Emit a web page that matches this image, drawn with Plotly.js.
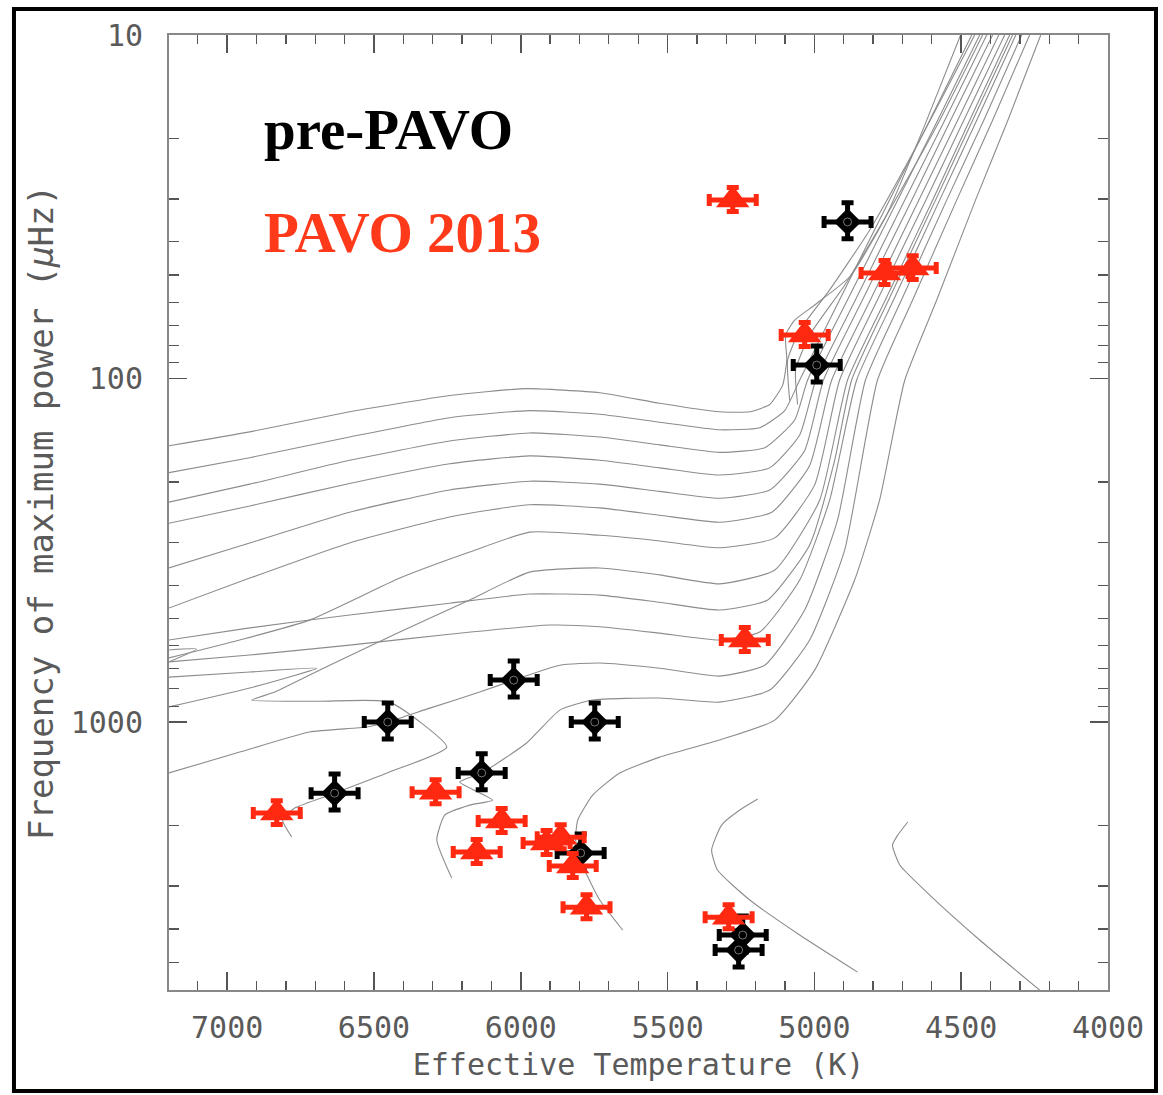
<!DOCTYPE html>
<html>
<head>
<meta charset="utf-8">
<script src="https://cdn.plot.ly/plotly-3.0.1.min.js"></script>
<style>
  html, body { margin: 0; padding: 0; background: #ffffff; }
  #chart { width: 1163px; height: 1095px; }
</style>
</head>
<body>
<div id="chart"></div>
<script>
// ---------- Data ----------
// pre-PAVO stars (black)
const prePavoTeff = [4887, 4992, 6024, 6453, 5748, 6133, 6634, 5796, 5244, 5258];
const prePavoNumax = [35.0, 91.4, 755, 1000, 1000, 1406, 1611, 2406, 4169, 4610];
const prePavoTeffErr = [80, 80, 80, 80, 80, 80, 80, 80, 80, 80];

// PAVO 2013 stars (red)
const pavoTeff = [5278, 4761, 4665, 5033, 5237, 6831, 6290, 6065, 6150, 5864, 5912, 5823, 5776, 5292];
const pavoNumax = [30.2, 49.3, 47.7, 74.7, 577, 1841, 1600, 1941, 2389, 2163, 2250, 2625, 3458, 3698];
const pavoTeffErr = [80, 80, 80, 80, 80, 80, 80, 80, 80, 80, 80, 80, 80, 80];

const numaxErrPct = 12;      // vertical error bars (percent)
const pavoNumaxErrPct = 8;

// Evolutionary tracks (Teff in K, numax in muHz)
const trackTeff = [
  [7199, 6923, 6583, 6242, 5980, 5731, 5527, 5323, 5220, 5152, 5108, 5094, 5098, 5067, 4999, 4877, 4754, 4624, 4502],
  [7199, 6923, 6583, 6242, 5970, 5731, 5527, 5323, 5186, 5101, 5050, 4914, 4744, 4607, 4464],
  [7199, 6923, 6583, 6242, 5970, 5731, 5527, 5323, 5169, 5067, 5023, 4887, 4716, 4580, 4437],
  [7199, 6923, 6583, 6242, 5970, 5731, 5527, 5323, 5152, 5050, 4995, 4860, 4692, 4556, 4413],
  [7199, 6923, 6583, 6242, 5970, 5731, 5527, 5323, 5152, 5033, 4969, 4836, 4668, 4536, 4393],
  [7199, 6923, 6583, 6242, 5970, 5731, 5527, 5323, 5145, 5016, 4941, 4809, 4644, 4512, 4372],
  [7199, 6957, 6719, 6412, 6174, 5970, 5731, 5527, 5323, 5135, 4999, 4914, 4785, 4620, 4491, 4352],
  [7199, 6957, 6719, 6525, 6453, 6310, 6140, 6024, 5867, 5731, 5527, 5323, 5169, 5033, 4921, 4826, 4703, 4549, 4423, 4294],
  [7199, 6923, 6583, 6242, 5902, 5731, 5527, 5323, 5186, 5050, 4948, 4856, 4730, 4573, 4447, 4314],
  [7199, 6923, 6583, 6242, 5970, 5731, 5527, 5323, 5159, 5016, 4931, 4873, 4747, 4587, 4461, 4325],
  [7199, 7104, 7199],
  [7199, 6923, 6695, 6923, 7199],
  [6780, 6811, 6770, 6634, 6447, 6252, 6447, 6685, 6916, 6838, 6651, 6412, 6174, 5970, 5731, 5527, 5323, 5135, 4982, 4887, 4758, 4597, 4471, 4335],
  [6235, 6286, 6259, 6174, 6096, 6208, 6133, 5980, 5867, 5755, 5527, 5323, 5152, 5016, 4897, 4785, 4665, 4515, 4393, 4267],
  [5653, 5731, 5782, 5813, 5806, 5755, 5663, 5527, 5323, 5135, 4999, 4863, 4778, 4692, 4583, 4451, 4341, 4229],
  [4853, 5050, 5220, 5330, 5350, 5316, 5254, 5193],
  [4233, 4437, 4607, 4709, 4734, 4716, 4682],
  [5084, 5091, 5050, 4948, 4812, 4641, 4454],
  [5057, 5064, 5016, 4897, 4744, 4573, 4427]
];
const trackNumax = [
  [157, 143, 125, 112, 107, 110, 118, 125, 125, 119, 104.5, 88.3, 74.7, 67.6, 61.1, 50.3, 33.4, 18.3, 10],
  [188, 170, 148, 130, 124, 127, 134, 141, 139, 124, 101, 59.0, 30.2, 17.7, 10],
  [229, 203, 173, 152, 144, 148, 156, 164, 159, 132, 101, 59.0, 30.2, 17.7, 10],
  [264, 235, 202, 177, 168, 173, 182, 191, 182, 146, 101, 59.0, 30.2, 17.7, 10],
  [356, 301, 245, 211, 199, 203, 213, 223, 211, 162, 101, 59.0, 30.2, 17.7, 10],
  [466, 381, 301, 253, 233, 238, 250, 262, 245, 179, 101, 59.0, 30.2, 17.7, 10],
  [651, 577, 505, 381, 320, 280, 286, 297, 311, 291, 204, 101, 59.0, 30.2, 17.7, 10],
  [1407, 1223, 1069, 1034, 1000, 911, 818, 755, 683, 673, 697, 735, 683, 472, 258, 101, 59.0, 30.2, 17.7, 10],
  [668, 638, 597, 555, 522, 528, 551, 577, 547, 386, 226, 101, 59.0, 30.2, 17.7, 10],
  [577, 532, 488, 451, 424, 427, 448, 472, 441, 305, 173, 101, 59.0, 30.2, 17.7, 10],
  [617, 613, 668],
  [904, 796, 697, 715, 740],
  [2160, 1929, 1780, 1611, 1398, 1183, 875, 870, 863, 818, 683, 547, 441, 366, 356, 373, 396, 361, 226, 101, 59.0, 30.2, 17.7, 10],
  [2847, 2206, 1866, 1745, 1687, 1495, 1407, 1151, 923, 863, 851, 875, 807, 577, 316, 101, 59.0, 30.2, 17.7, 10],
  [4031, 3297, 2697, 2206, 1929, 1632, 1407, 1265, 1128, 987, 706, 386, 226, 101, 59.0, 30.2, 17.7, 10],
  [5346, 4169, 3297, 2697, 2359, 1995, 1804, 1676],
  [6026, 4311, 3190, 2608, 2281, 2133, 1954],
  [116, 88.3, 72.3, 55.2, 37.0, 20.2, 10],
  [119, 94.4, 74.7, 53.5, 32.3, 17.7, 10]
];

// Axis ticks
const xTickVals = [7000, 6500, 6000, 5500, 5000, 4500, 4000];
const yTickVals = [10, 100, 1000];
const yTickText = ['10', '100', '1000'];
const yMinorVals = [20, 30, 40, 50, 60, 70, 80, 90, 200, 300, 400, 500, 600, 700, 800, 900, 2000, 3000, 4000, 5000];

// ---------- Styling ----------
const TRACK_COLOR = 'rgb(140,140,140)';
const RED = 'rgb(255,40,16)';
const AXIS_FONT = 'DejaVu Sans Mono, monospace';
const AXIS_TEXT_COLOR = '#5a5a5a';

const traces = [];
for (let i = 0; i < trackTeff.length; i++) {
  traces.push({
    type: 'scatter', mode: 'lines',
    x: trackTeff[i], y: trackNumax[i],
    line: { color: TRACK_COLOR, width: 1.1, shape: 'spline', smoothing: 0.5 },
    hoverinfo: 'skip', showlegend: false
  });
}

traces.push({
  type: 'scatter', mode: 'markers',
  x: prePavoTeff, y: prePavoNumax,
  marker: { symbol: 'diamond', size: 21, color: 'black' },
  error_x: { type: 'data', array: prePavoTeffErr, color: 'black', thickness: 5, width: 6 },
  error_y: { type: 'percent', value: numaxErrPct, color: 'black', thickness: 5, width: 6 },
  showlegend: false
});
traces.push({
  type: 'scatter', mode: 'markers',
  x: prePavoTeff, y: prePavoNumax,
  marker: { symbol: 'circle-open', size: 8, color: 'rgba(255,255,255,0.45)', line: { width: 1 } },
  hoverinfo: 'skip', showlegend: false
});

traces.push({
  type: 'scatter', mode: 'markers',
  x: pavoTeff, y: pavoNumax,
  marker: { symbol: 'triangle-up', size: 29, color: RED },
  error_x: { type: 'data', array: pavoTeffErr, color: RED, thickness: 5, width: 6 },
  error_y: { type: 'percent', value: pavoNumaxErrPct, color: RED, thickness: 5, width: 6 },
  showlegend: false
});

const layout = {
  width: 1163, height: 1095,
  margin: { l: 169, r: 55, t: 35, b: 105 },
  paper_bgcolor: 'white', plot_bgcolor: 'white',
  showlegend: false,
  xaxis: {
    range: [7198, 4000],
    tickmode: 'array', tickvals: xTickVals,
    ticks: 'inside', ticklen: 18, tickwidth: 1.5, tickcolor: '#555',
    minor: { ticks: 'inside', dtick: 100, tick0: 4000, ticklen: 9, tickwidth: 1.3, tickcolor: '#555' },
    showline: true, linecolor: '#888', linewidth: 2, mirror: 'allticks',
    showgrid: false, zeroline: false,
    tickfont: { family: AXIS_FONT, size: 30, color: AXIS_TEXT_COLOR },
    ticklabelstandoff: 10,
    title: { text: 'Effective Temperature (K)', font: { family: AXIS_FONT, size: 30, color: AXIS_TEXT_COLOR }, standoff: 10 }
  },
  yaxis: {
    type: 'log',
    range: [3.78, 1],
    tickmode: 'array', tickvals: yTickVals, ticktext: yTickText,
    ticks: 'inside', ticklen: 18, tickwidth: 1.5, tickcolor: '#555',
    minor: { ticks: 'inside', tickmode: 'array', tickvals: yMinorVals, ticklen: 10, tickwidth: 1.3, tickcolor: '#555' },
    showline: true, linecolor: '#888', linewidth: 2, mirror: 'allticks',
    showgrid: false, zeroline: false,
    tickfont: { family: AXIS_FONT, size: 30, color: AXIS_TEXT_COLOR },
    ticklabelstandoff: 18,
    title: { text: 'Frequency of maximum power (<i>μ</i>Hz)', font: { family: AXIS_FONT, size: 34, color: AXIS_TEXT_COLOR }, standoff: 7 }
  },
  annotations: [
    { xref: 'paper', yref: 'paper', x: 0.099, y: 0.901, xanchor: 'left', yanchor: 'middle',
      text: '<b>pre-PAVO</b>', showarrow: false,
      font: { family: 'Liberation Serif, Times New Roman, serif', size: 57, color: 'black' } },
    { xref: 'paper', yref: 'paper', x: 0.099, y: 0.793, xanchor: 'left', yanchor: 'middle',
      text: '<b>PAVO 2013</b>', showarrow: false,
      font: { family: 'Liberation Serif, Times New Roman, serif', size: 57, color: 'rgb(255,58,26)' } }
  ],
  shapes: [
    { type: 'rect', xref: 'paper', yref: 'paper', x0: -0.1651, x1: 1.0511, y0: -0.1058, y1: 1.0272,
      line: { color: 'black', width: 4 }, fillcolor: 'rgba(0,0,0,0)' }
  ]
};

Plotly.newPlot('chart', traces, layout, { displayModeBar: false, staticPlot: true });
</script>
</body>
</html>
